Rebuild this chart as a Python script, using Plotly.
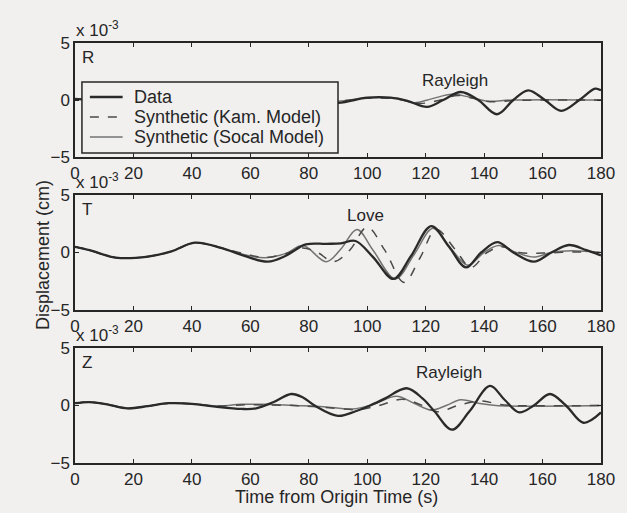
import plotly.graph_objects as go

# ---- data (displacement in units of 1e-3 cm), control points ----
# R component
t_R_data = [0, 15, 30, 45, 60, 75, 90, 100, 108, 114, 120.5, 126, 132, 138, 144.4, 150, 155.1, 160.8, 166.4, 172.6, 178, 180]
R_data   = [0.1, -0.1, 0.1, -0.1, 0.1, -0.1, -0.25, 0.2, 0.2, -0.1, -0.6, 0.0, 0.7, 0.0, -1.25, 0.0, 0.85, 0.0, -0.95, 0.0, 1.0, 0.85]
t_R_kam  = [0, 15, 30, 45, 60, 75, 90, 100, 110, 118, 125, 131, 137, 142, 150, 160, 180]
R_kam    = [0.1, -0.1, 0.1, -0.1, 0.1, -0.1, -0.1, 0.15, 0.1, -0.3, 0.0, 0.4, 0.1, -0.15, -0.05, 0.0, 0.0]
t_R_soc  = [0, 15, 30, 45, 60, 75, 90, 100, 110, 116, 122, 129, 135, 141, 150, 180]
R_soc    = [0.1, -0.1, 0.1, -0.1, 0.1, -0.1, -0.1, 0.2, 0.15, -0.25, 0.1, 0.5, 0.25, -0.1, 0.0, 0.0]

# T component
t_T_data = [0, 5, 14, 25, 33, 41, 50, 58, 66, 72, 79, 86, 91, 96, 102, 109, 115, 121.9, 128, 133.8, 139, 144.5, 150, 157, 163, 169, 175, 180]
T_data   = [0.5, 0.2, -0.45, -0.35, 0.1, 0.85, 0.4, -0.3, -0.8, -0.3, 0.7, 0.75, 0.8, 1.0, -0.4, -2.3, -0.3, 2.3, 0.5, -1.3, 0.0, 0.9, 0.0, -0.8, 0.0, 0.65, 0.2, -0.25]
t_T_kam  = [0, 5, 14, 25, 33, 41, 50, 58, 65, 72, 78, 83, 88.5, 94, 100, 106, 112.6, 118, 123.6, 130, 135.5, 141, 146, 152, 160, 170, 180]
T_kam    = [0.5, 0.2, -0.45, -0.35, 0.1, 0.85, 0.4, -0.1, -0.45, -0.1, 0.4, 0.0, -0.8, 0.2, 2.2, 0.2, -2.6, -0.5, 2.0, 0.3, -1.3, 0.0, 0.5, 0.0, -0.05, 0.05, 0.0]
t_T_soc  = [0, 5, 14, 25, 33, 41, 50, 58, 65, 72, 78, 86, 91, 96.5, 102, 109.6, 116, 122.5, 128.5, 134.4, 140, 145, 151, 157, 163, 170, 180]
T_soc    = [0.5, 0.2, -0.45, -0.35, 0.1, 0.85, 0.4, -0.2, -0.45, -0.1, 0.6, -0.8, 0.3, 2.0, 0.2, -2.3, -0.2, 2.1, 0.4, -1.1, 0.0, 0.6, 0.0, -0.4, 0.0, 0.15, 0.0]

# Z component
t_Z_data = [0, 5, 11, 18, 25, 32, 40, 48, 57, 62, 68, 74, 78, 82, 90, 96, 101, 106, 113.5, 119, 123, 129, 135, 142, 147, 152, 157, 162.5, 168, 174, 180]
Z_data   = [0.2, 0.3, 0.1, -0.25, -0.05, 0.2, 0.15, -0.1, -0.3, -0.25, 0.3, 1.0, 0.7, 0.0, -0.9, -0.5, 0.0, 0.6, 1.5, 0.6, -0.5, -2.1, -0.5, 1.7, 0.5, -0.6, 0.0, 1.0, 0.0, -1.5, -0.6]
t_Z_kam  = [0, 5, 11, 18, 25, 32, 40, 48, 57, 65, 75, 85, 97, 104, 112, 118, 124, 131, 139, 145, 150, 180]
Z_kam    = [0.2, 0.3, 0.1, -0.25, -0.05, 0.2, 0.15, -0.05, 0.05, 0.05, 0.0, -0.15, -0.35, 0.0, 0.55, 0.1, -0.55, 0.0, 0.4, 0.1, 0.0, 0.0]
t_Z_soc  = [0, 5, 11, 18, 25, 32, 40, 48, 57, 65, 75, 85, 95, 102, 110, 116, 122, 127, 132, 138, 144, 180]
Z_soc    = [0.2, 0.3, 0.1, -0.25, -0.05, 0.2, 0.15, -0.05, 0.1, 0.1, 0.0, -0.1, -0.3, 0.1, 0.8, 0.2, -0.4, 0.0, 0.5, 0.2, 0.0, 0.0]

x_ticks = [0, 20, 40, 60, 80, 100, 120, 140, 160, 180]
y_ticks = [-5, 0, 5]
panel_names = ["R", "T", "Z"]
series_names = ["Data", "Synthetic (Kam. Model)", "Synthetic (Socal Model)"]
wave_labels = [("Rayleigh", 130, 1.7), ("Love", 99.5, 3.25), ("Rayleigh", 128, 2.9)]

# ---- styling ----
BG = "#f1f0ef"
INK = "#262626"
FONT = "Liberation Sans, Arial, sans-serif"
styles = [dict(color="#2a2a2a", width=2.3),
          dict(color="#4a4a4a", width=1.5, dash="dash"),
          dict(color="#737373", width=1.5)]

panels = [
    [(t_R_data, R_data), (t_R_kam, R_kam), (t_R_soc, R_soc)],
    [(t_T_data, T_data), (t_T_kam, T_kam), (t_T_soc, T_soc)],
    [(t_Z_data, Z_data), (t_Z_kam, Z_kam), (t_Z_soc, Z_soc)],
]

# plot area: left 75, right 605, top 43, bottom 463; panels in px from top
L, R = 75, 605
W = R - L
panel_px = [(43, 157), (195, 310), (348, 463)]
TOP, BOT = 43, 463
H = BOT - TOP
domains = [[(BOT - b) / H, (BOT - t) / H] for (t, b) in panel_px]


def px_x(x):
    return (x - L) / W


def px_y(y):
    return (BOT - y) / H


fig = go.Figure()
for i, series in enumerate(panels):
    ax = "" if i == 0 else str(i + 1)
    for j in [2, 1, 0]:
        tt, vv = series[j]
        fig.add_trace(go.Scatter(
            x=tt, y=vv, mode="lines", name=series_names[j],
            line=dict(shape="spline", smoothing=1.0, **styles[j]),
            showlegend=False,
            xaxis="x" + ax, yaxis="y" + ax,
        ))

axis_common = dict(showline=True, linecolor=INK, linewidth=1.5, mirror="ticks",
                   ticks="inside", ticklen=4, tickwidth=1.2, tickcolor=INK,
                   showgrid=False, zeroline=False,
                   tickfont=dict(family=FONT, size=17, color=INK))

layout = dict(
    width=627, height=513,
    margin=dict(l=L, r=627 - R, t=TOP, b=513 - BOT),
    paper_bgcolor=BG, plot_bgcolor=BG,
    font=dict(family=FONT, color=INK),
    showlegend=False,
)
for i in range(3):
    ax = "" if i == 0 else str(i + 1)
    layout["xaxis" + ax] = dict(axis_common, range=[0, 180], tickvals=x_ticks,
                                anchor="y" + ax, domain=[0, 1])
    layout["yaxis" + ax] = dict(axis_common, range=[-5, 5], tickvals=y_ticks,
                                anchor="x" + ax, domain=domains[i])
fig.update_layout(**layout)

# ---- legend box (opaque, covering the R traces like the original) ----
shapes = [dict(type="rect", xref="paper", yref="paper", layer="above",
               x0=px_x(82), x1=px_x(340), y0=px_y(153), y1=px_y(82),
               fillcolor=BG, line=dict(color=INK, width=1.5))]
ann = []
row_y = [97, 117, 137]
for j in range(3):
    st = styles[j]
    shapes.append(dict(type="line", xref="paper", yref="paper", layer="above",
                       x0=px_x(90), x1=px_x(123), y0=px_y(row_y[j]), y1=px_y(row_y[j]),
                       line=dict(color=st["color"], width=st["width"], dash=st.get("dash", "solid"))))
    ann.append(dict(xref="paper", yref="paper", x=px_x(132), y=px_y(row_y[j]),
                    xanchor="left", yanchor="middle", text=series_names[j], showarrow=False,
                    font=dict(family=FONT, size=18, color=INK)))

for i in range(3):
    ax = "" if i == 0 else str(i + 1)
    top = domains[i][1]
    ann.append(dict(xref="paper", yref="paper", x=-0.002, y=top, xanchor="left", yanchor="bottom",
                    yshift=1, text="x 10<sup>-3</sup>", showarrow=False,
                    font=dict(family=FONT, size=17, color=INK)))
    ann.append(dict(xref="paper", yref="paper", x=0.009, y=top, xanchor="left", yanchor="top",
                    yshift=-3, text=panel_names[i], showarrow=False,
                    font=dict(family=FONT, size=17, color=INK)))
    lbl, lx, ly = wave_labels[i]
    ann.append(dict(xref="x" + ax, yref="y" + ax, x=lx, y=ly, text=lbl, showarrow=False,
                    font=dict(family=FONT, size=17, color=INK)))
ann.append(dict(xref="paper", yref="paper", x=0.498, y=0, yshift=-34, yanchor="middle",
                text="Time from Origin Time (s)", showarrow=False,
                font=dict(family=FONT, size=18, color=INK)))
ann.append(dict(xref="paper", yref="paper", x=0, xshift=-32, y=px_y(255), xanchor="center",
                yanchor="middle", textangle=-90, text="Displacement (cm)", showarrow=False,
                font=dict(family=FONT, size=18, color=INK)))
fig.update_layout(annotations=ann, shapes=shapes)

fig.write_html("out.html", config={"displayModeBar": False},
               post_script="document.body.style.margin='0';document.body.style.background='%s';" % BG)
